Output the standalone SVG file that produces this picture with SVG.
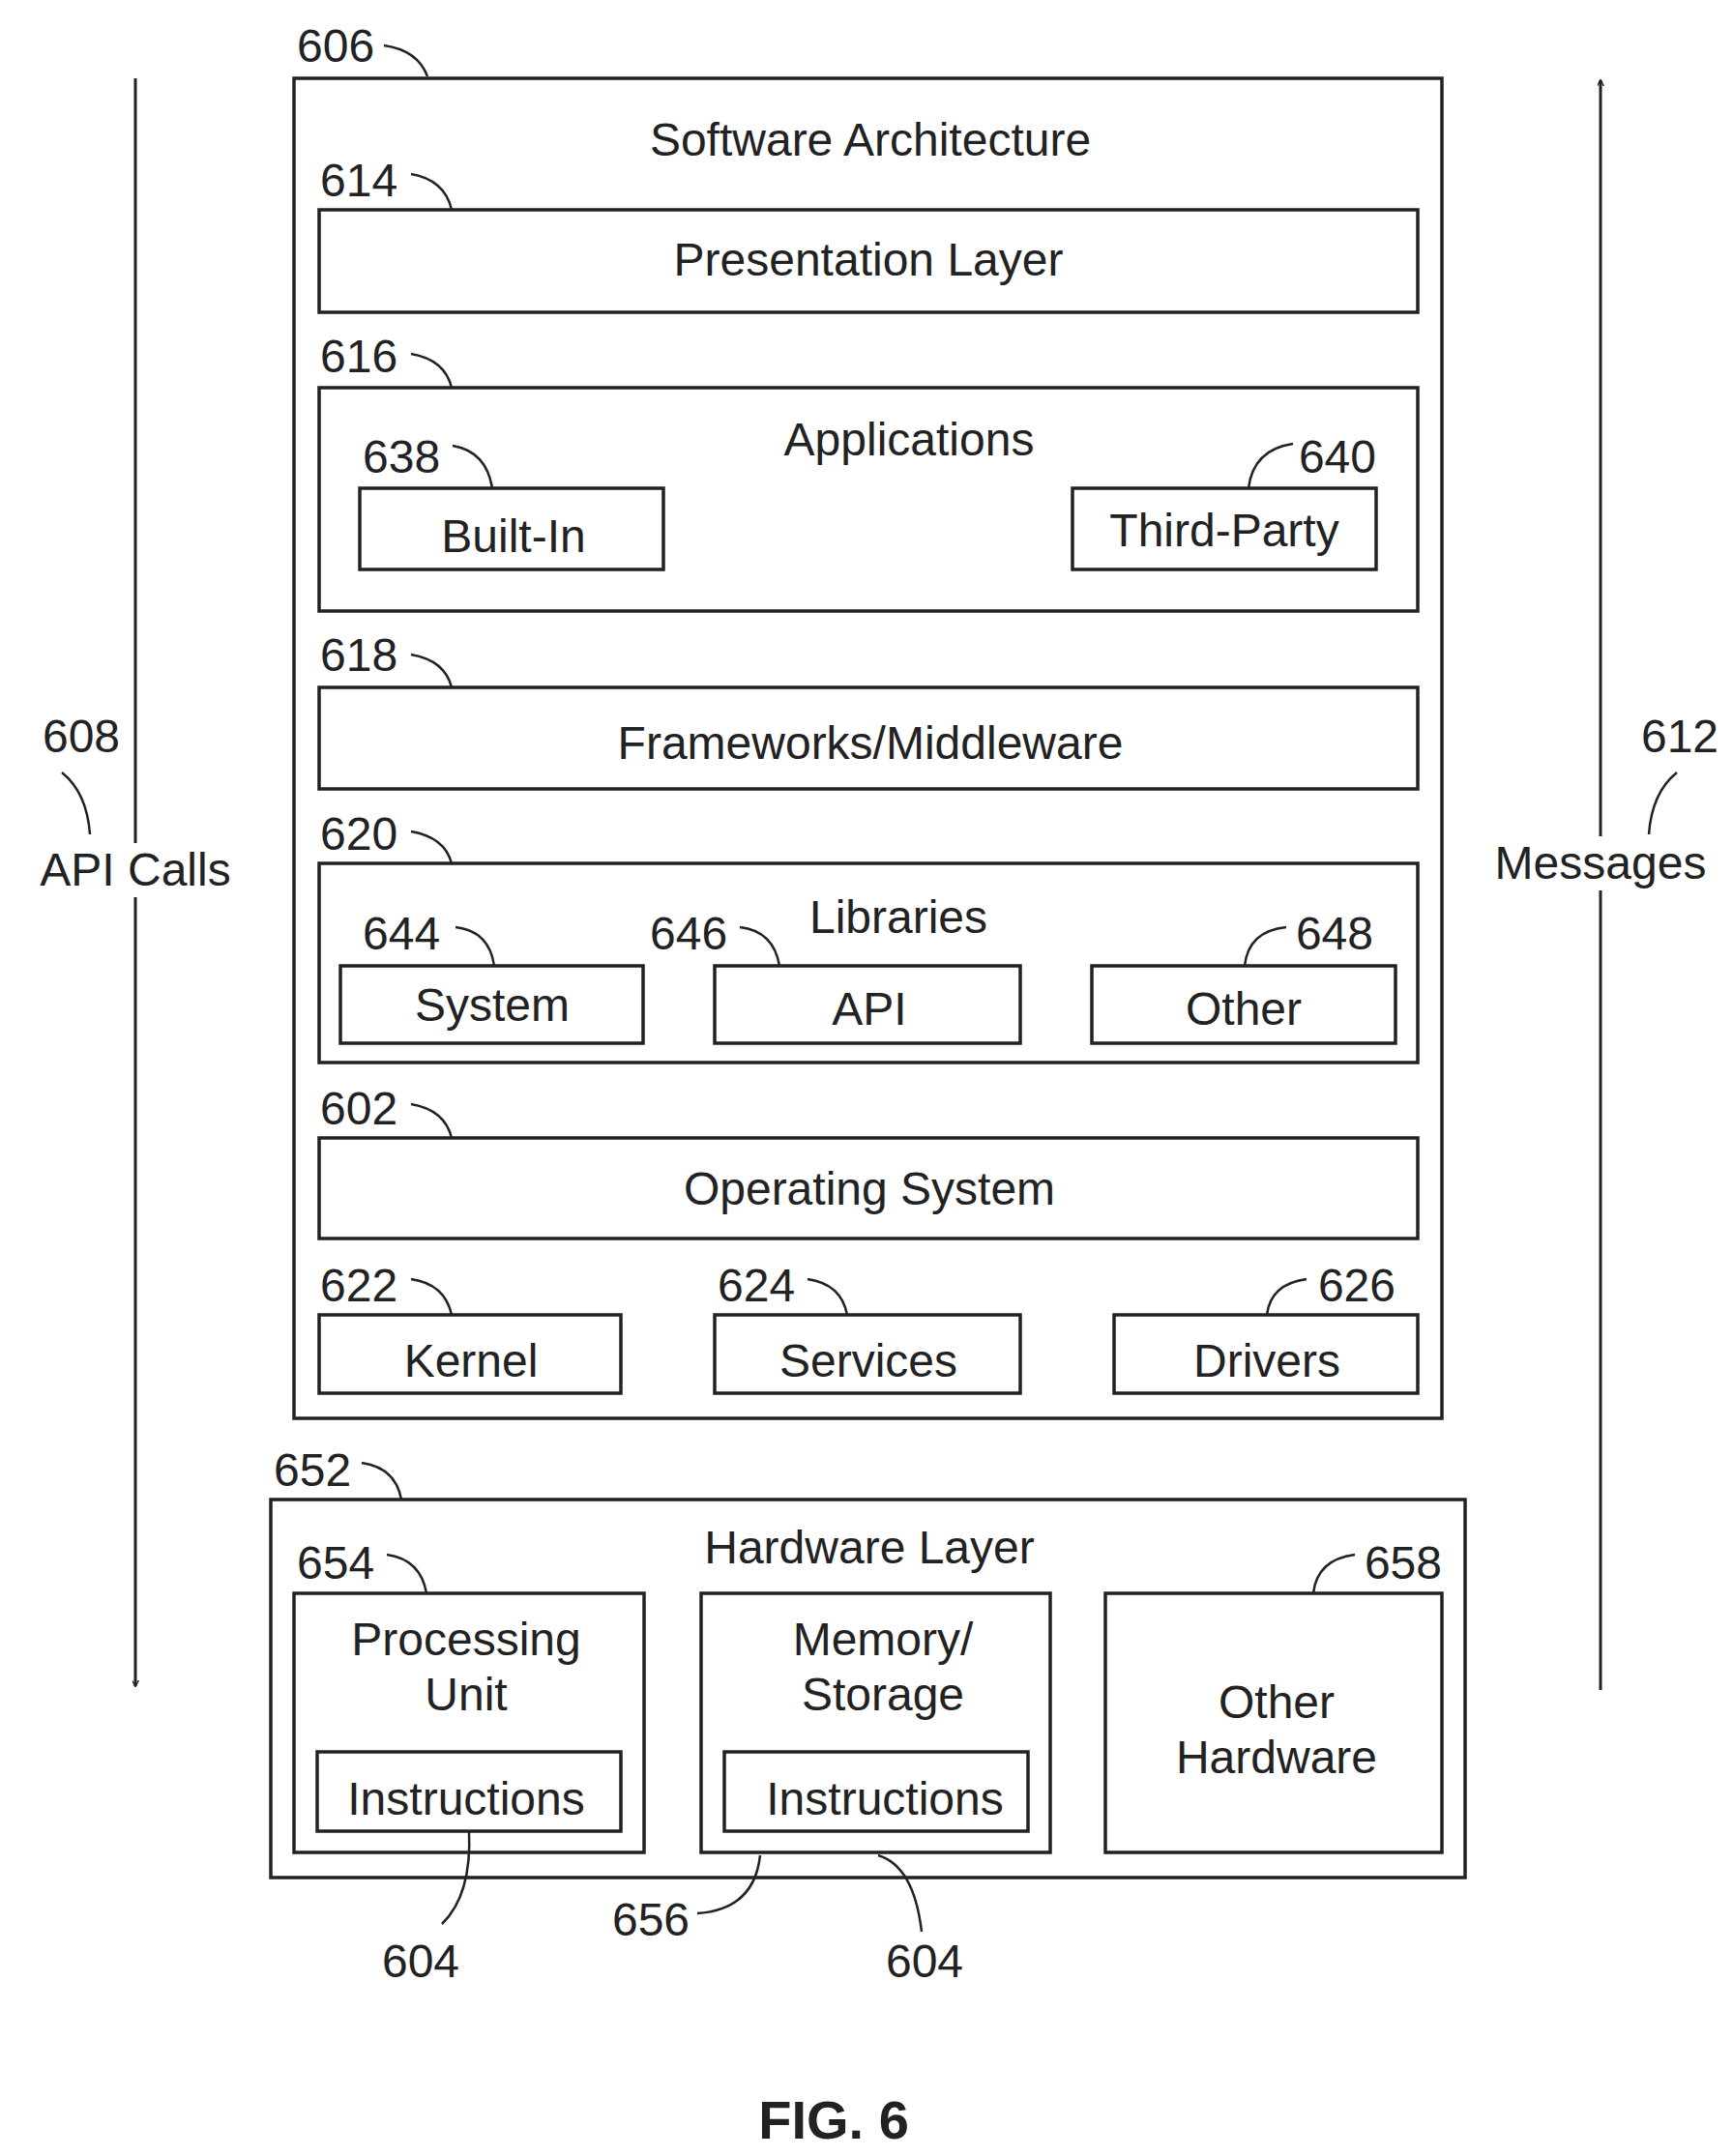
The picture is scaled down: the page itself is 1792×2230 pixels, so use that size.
<svg xmlns="http://www.w3.org/2000/svg" width="1792" height="2230" viewBox="0 0 1792 2230">
<style>
.b{fill:none;stroke:#222;stroke-width:3.5}
.l{fill:none;stroke:#222;stroke-width:2.5}
text{font-family:"Liberation Sans",Arial,sans-serif;font-size:48px;fill:#222}
.c{text-anchor:middle}
.e{text-anchor:end}
</style>
<defs>
<marker id="ah" viewBox="0 0 10 10" refX="9" refY="5" markerWidth="7" markerHeight="7" orient="auto" markerUnits="userSpaceOnUse"><path d="M0,0 L10,5 L0,10" fill="none" stroke="#222" stroke-width="2"/></marker>
</defs>
<rect width="1792" height="2230" fill="#fff"/>
<g id="connectors">
<line class="l" x1="140" y1="81" x2="140" y2="1744" marker-end="url(#ah)" style="stroke-width:3"/>
<line class="l" x1="1655" y1="1748" x2="1655" y2="83" marker-end="url(#ah)" style="stroke-width:3"/>
<path class="l" d="M397,47 Q432,52 442,79"/>
<path class="l" d="M425,180 Q460,186 467,217"/>
<path class="l" d="M425,366 Q460,372 467,401"/>
<path class="l" d="M468,461 Q503,467 509,505"/>
<path class="l" d="M1337,459 Q1296,465 1291,505"/>
<path class="l" d="M425,677 Q460,683 467,711"/>
<path class="l" d="M425,860 Q460,866 467,893"/>
<path class="l" d="M471,959 Q506,963 511,999"/>
<path class="l" d="M765,959 Q800,963 806,999"/>
<path class="l" d="M1330,959 Q1291,963 1287,999"/>
<path class="l" d="M425,1142 Q460,1148 467,1177"/>
<path class="l" d="M425,1323 Q460,1328 467,1360"/>
<path class="l" d="M835,1323 Q870,1328 876,1360"/>
<path class="l" d="M1351,1323 Q1314,1328 1310,1360"/>
<path class="l" d="M374,1513 Q409,1518 415,1551"/>
<path class="l" d="M400,1608 Q435,1613 441,1648"/>
<path class="l" d="M1401,1608 Q1362,1613 1358,1648"/>
<path class="l" d="M485,1894 Q488,1960 457,1990"/>
<path class="l" d="M721,1979 Q780,1975 786,1919"/>
<path class="l" d="M908,1919 Q945,1930 953,1998"/>
<path class="l" d="M64,799 Q90,820 93,863"/>
<path class="l" d="M1734,799 Q1708,820 1705,863"/>
</g>
<g id="n606"><rect class="b" x="304" y="81" width="1187" height="1386"/><text x="307" y="64">606</text><text class="c" x="900" y="161">Software Architecture</text></g>
<g id="n614"><rect class="b" x="330" y="217" width="1136" height="106"/><text x="331" y="203">614</text><text class="c" x="898" y="285">Presentation Layer</text></g>
<g id="n616"><rect class="b" x="330" y="401" width="1136" height="231"/><text x="331" y="385">616</text><text class="c" x="940" y="471">Applications</text></g>
<g id="n638"><rect class="b" x="372" y="505" width="314" height="84"/><text x="375" y="489">638</text><text class="c" x="531" y="571">Built-In</text></g>
<g id="n640"><rect class="b" x="1109" y="505" width="314" height="84"/><text class="e" x="1423" y="489">640</text><text class="c" x="1266" y="565">Third-Party</text></g>
<g id="n618"><rect class="b" x="330" y="711" width="1136" height="105"/><text x="331" y="694">618</text><text class="c" x="900" y="785">Frameworks/Middleware</text></g>
<g id="n620"><rect class="b" x="330" y="893" width="1136" height="206"/><text x="331" y="879">620</text><text class="c" x="929" y="965">Libraries</text></g>
<g id="n644"><rect class="b" x="352" y="999" width="313" height="80"/><text x="375" y="982">644</text><text class="c" x="509" y="1056">System</text></g>
<g id="n646"><rect class="b" x="739" y="999" width="316" height="80"/><text x="672" y="982">646</text><text class="c" x="899" y="1060">API</text></g>
<g id="n648"><rect class="b" x="1129" y="999" width="314" height="80"/><text class="e" x="1420" y="982">648</text><text class="c" x="1286" y="1060">Other</text></g>
<g id="n602"><rect class="b" x="330" y="1177" width="1136" height="104"/><text x="331" y="1163">602</text><text class="c" x="899" y="1246">Operating System</text></g>
<g id="n622"><rect class="b" x="330" y="1360" width="312" height="81"/><text x="331" y="1346">622</text><text class="c" x="487" y="1424">Kernel</text></g>
<g id="n624"><rect class="b" x="739" y="1360" width="316" height="81"/><text x="742" y="1346">624</text><text class="c" x="898" y="1424">Services</text></g>
<g id="n626"><rect class="b" x="1152" y="1360" width="314" height="81"/><text class="e" x="1443" y="1346">626</text><text class="c" x="1310" y="1424">Drivers</text></g>
<g id="n652"><rect class="b" x="280" y="1551" width="1235" height="391"/><text x="283" y="1537">652</text><text class="c" x="899" y="1617">Hardware Layer</text></g>
<g id="n654"><rect class="b" x="304" y="1648" width="362" height="268"/><text x="307" y="1633">654</text><text class="c" x="482" y="1712">Processing</text><text class="c" x="482" y="1769">Unit</text></g>
<g id="n604a"><rect class="b" x="328" y="1812" width="314" height="82"/><text class="c" x="482" y="1877">Instructions</text><text class="c" x="435" y="2045">604</text></g>
<g id="n656"><rect class="b" x="725" y="1648" width="361" height="268"/><text class="c" x="913" y="1712">Memory/</text><text class="c" x="913" y="1769">Storage</text><text class="c" x="673" y="2002">656</text></g>
<g id="n604b"><rect class="b" x="749" y="1812" width="314" height="82"/><text class="c" x="915" y="1877">Instructions</text><text class="c" x="956" y="2045">604</text></g>
<g id="n658"><rect class="b" x="1143" y="1648" width="348" height="268"/><text class="e" x="1491" y="1633">658</text><text class="c" x="1320" y="1777">Other</text><text class="c" x="1320" y="1834">Hardware</text></g>
<g id="n608"><rect x="32" y="872" width="216" height="56" fill="#fff"/><text class="c" x="84" y="778">608</text><text class="c" x="140" y="916">API Calls</text></g>
<g id="n612"><rect x="1540" y="865" width="232" height="56" fill="#fff"/><text class="c" x="1737" y="778">612</text><text class="c" x="1655" y="909">Messages</text></g>
<text class="c" x="862" y="2212" style="font-weight:bold;font-size:56px">FIG. 6</text>
</svg>
